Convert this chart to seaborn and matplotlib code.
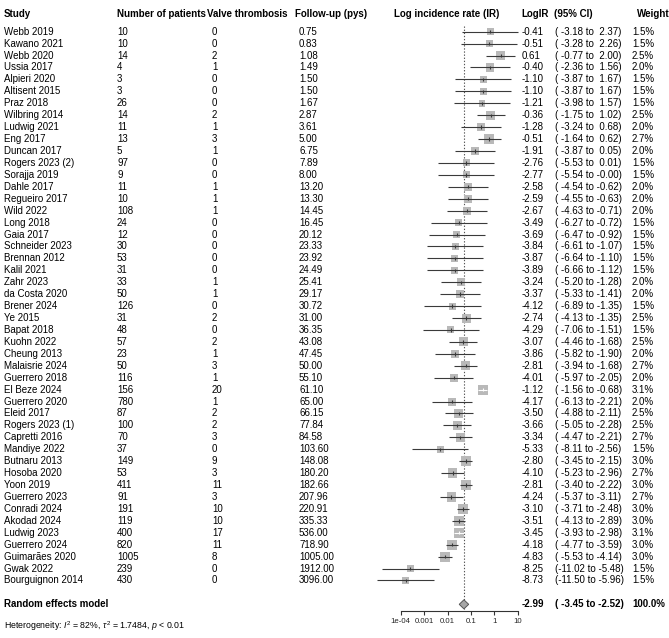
import numpy as np
import pandas as pd
import matplotlib
matplotlib.use("Agg")
import matplotlib.pyplot as plt
import matplotlib.transforms as mtrans
from matplotlib.ticker import FixedLocator, FixedFormatter, NullLocator
import seaborn as sns

studies = ["Webb 2019", "Kawano 2021", "Webb 2020", "Ussia 2017", "Alpieri 2020", "Altisent 2015",
           "Praz 2018", "Wilbring 2014", "Ludwig 2021", "Eng 2017", "Duncan 2017", "Rogers 2023 (2)",
           "Sorajja 2019", "Dahle 2017", "Regueiro 2017", "Wild 2022", "Long 2018", "Gaia 2017",
           "Schneider 2023", "Brennan 2012", "Kalil 2021", "Zahr 2023", "da Costa 2020", "Brener 2024",
           "Ye 2015", "Bapat 2018", "Kuohn 2022", "Cheung 2013", "Malaisrie 2024", "Guerrero 2018",
           "El Beze 2024", "Guerrero 2020", "Eleid 2017", "Rogers 2023 (1)", "Capretti 2016",
           "Mandiye 2022", "Butnaru 2013", "Hosoba 2020", "Yoon 2019", "Guerrero 2023", "Conradi 2024",
           "Akodad 2024", "Ludwig 2023", "Guerrero 2024", "Guimarães 2020", "Gwak 2022",
           "Bourguignon 2014"]
patients = [10, 10, 14, 4, 3, 3, 26, 14, 11, 13, 5, 97, 9, 11, 10, 108, 24, 12, 30, 53, 31, 33, 50,
            126, 31, 48, 57, 23, 50, 116, 156, 780, 87, 100, 70, 37, 149, 53, 411, 91, 191, 119, 400,
            820, 1005, 239, 430]
thrombosis = [0, 0, 2, 1, 0, 0, 0, 2, 1, 3, 1, 0, 0, 1, 1, 1, 0, 0, 0, 0, 0, 1, 1, 0, 2, 0, 2, 1, 3,
              1, 20, 1, 2, 2, 3, 0, 9, 3, 11, 3, 10, 10, 17, 11, 8, 0, 0]
followup = [0.75, 0.83, 1.08, 1.49, 1.50, 1.50, 1.67, 2.87, 3.61, 5.00, 6.75, 7.89, 8.00, 13.20,
            13.30, 14.45, 16.45, 20.12, 23.33, 23.92, 24.49, 25.41, 29.17, 30.72, 31.00, 36.35,
            43.08, 47.45, 50.00, 55.10, 61.10, 65.00, 66.15, 77.84, 84.58, 103.60, 148.08, 180.20,
            182.66, 207.96, 220.91, 335.33, 536.00, 718.90, 1005.00, 1912.00, 3096.00]
logir = [-0.41, -0.51, 0.61, -0.40, -1.10, -1.10, -1.21, -0.36, -1.28, -0.51, -1.91, -2.76, -2.77,
         -2.58, -2.59, -2.67, -3.49, -3.69, -3.84, -3.87, -3.89, -3.24, -3.37, -4.12, -2.74, -4.29,
         -3.07, -3.86, -2.81, -4.01, -1.12, -4.17, -3.50, -3.66, -3.34, -5.33, -2.80, -4.10, -2.81,
         -4.24, -3.10, -3.51, -3.45, -4.18, -4.83, -8.25, -8.73]
ci_lo = [-3.18, -3.28, -0.77, -2.36, -3.87, -3.87, -3.98, -1.75, -3.24, -1.64, -3.87, -5.53, -5.54,
         -4.54, -4.55, -4.63, -6.27, -6.47, -6.61, -6.64, -6.66, -5.20, -5.33, -6.89, -4.13, -7.06,
         -4.46, -5.82, -3.94, -5.97, -1.56, -6.13, -4.88, -5.05, -4.47, -8.11, -3.45, -5.23, -3.40,
         -5.37, -3.71, -4.13, -3.93, -4.77, -5.53, -11.02, -11.50]
ci_hi = [2.37, 2.26, 2.00, 1.56, 1.67, 1.67, 1.57, 1.02, 0.68, 0.62, 0.05, 0.01, -0.00, -0.62, -0.63,
         -0.71, -0.72, -0.92, -1.07, -1.10, -1.12, -1.28, -1.41, -1.35, -1.35, -1.51, -1.68, -1.90,
         -1.68, -2.05, -0.68, -2.21, -2.11, -2.28, -2.21, -2.56, -2.15, -2.96, -2.22, -3.11, -2.48,
         -2.89, -2.98, -3.59, -4.14, -5.48, -5.96]
weights = [1.5, 1.5, 2.5, 2.0, 1.5, 1.5, 1.5, 2.5, 2.0, 2.7, 2.0, 1.5, 1.5, 2.0, 2.0, 2.0, 1.5, 1.5,
           1.5, 1.5, 1.5, 2.0, 2.0, 1.5, 2.5, 1.5, 2.5, 2.0, 2.7, 2.0, 3.1, 2.0, 2.5, 2.5, 2.7, 1.5,
           3.0, 2.7, 3.0, 2.7, 3.0, 3.0, 3.1, 3.0, 3.0, 1.5, 1.5]

re_label = "Random effects model"
re_est, re_lo, re_hi, re_weight = -2.99, -3.45, -2.52, 100.0
heterogeneity = r"Heterogeneity: $I^2$ = 82%, $\tau^2$ = 1.7484, $p$ < 0.01"
tick_values = [1e-4, 1e-3, 1e-2, 1e-1, 1, 10]
tick_labels = ["1e-04", "0.001", "0.01", "0.1", "1", "10"]
headers = ["Study", "Number of patients", "Valve thrombosis", "Follow-up (pys)",
           "Log incidence rate (IR)", "LogIR", "(95% CI)", "Weight"]

df = pd.DataFrame({"study": studies, "n": patients, "events": thrombosis, "fu": followup,
                   "est": logir, "lo": ci_lo, "hi": ci_hi, "w": weights})
df["row"] = np.arange(len(df))
df["ir"] = np.exp(df["est"])

# ---------------- layout ----------------
W, H = 669, 638
sns.set_style("white")
plt.rcParams["font.family"] = ["Liberation Sans", "DejaVu Sans"]
plt.rcParams["mathtext.fontset"] = "custom"
plt.rcParams["mathtext.rm"] = "Liberation Sans"
plt.rcParams["mathtext.it"] = "Liberation Sans:italic"
plt.rcParams["mathtext.bf"] = "Liberation Sans:bold"

fig = plt.figure(figsize=(W / 100, H / 100), dpi=100)
row0_px, row_px = 31.7, 11.93
axis_px = 610.5
ln_lo, ln_hi = -12.0, 2.6
x_1e4_px, px_per_ln = 400.7, 10.163
left_px = x_1e4_px + (ln_lo - np.log(1e-4)) * px_per_ln
right_px = x_1e4_px + (ln_hi - np.log(1e-4)) * px_per_ln
ax = fig.add_axes([left_px / W, (H - axis_px) / H, (right_px - left_px) / W, axis_px / H])
ax.set_xscale("log")
ax.set_xlim(np.exp(ln_lo), np.exp(ln_hi))
ax.set_ylim((axis_px - row0_px) / row_px, -row0_px / row_px)
ax.patch.set_alpha(0)

# reference (summary) line
ax.vlines(np.exp(re_est), -0.45, ax.get_ylim()[0], colors="#555555", linestyles=(0, (1.2, 1.6)),
          linewidth=0.8, zorder=1)

# squares
s_min, s_max = 1.5 * 16.7, 3.1 * 16.7
sns.scatterplot(data=df, x="ir", y="row", size="w", sizes=(s_min, s_max), size_norm=(1.5, 3.1),
                marker="s", color="#b9b9b9", linewidth=0, legend=False, ax=ax, zorder=2)

# confidence intervals
box_px = np.sqrt(df["w"] * 16.7) * 100 / 72
ci_px = (df["hi"] - df["lo"]) * px_per_ln
line_cols = np.where(ci_px < box_px, "white", "#3a3a3a")
ax.hlines(df["row"], np.exp(df["lo"]), np.exp(df["hi"]), colors=line_cols, linewidth=0.8, zorder=3)
ax.scatter(df["ir"], df["row"], marker="|", s=6, c=line_cols, linewidths=0.8, zorder=4)

# diamond
re_row = len(df) + 1
dh = 0.38
ax.fill([np.exp(re_lo), np.exp(re_est), np.exp(re_hi), np.exp(re_est)],
        [re_row, re_row - dh, re_row, re_row + dh], facecolor="#a6a6a6", edgecolor="#555555",
        linewidth=0.7, zorder=3)

# axis styling
for sp in ["top", "left", "right"]:
    ax.spines[sp].set_visible(False)
ax.spines["bottom"].set_bounds(tick_values[0], tick_values[-1])
ax.spines["bottom"].set_linewidth(0.8)
ax.spines["bottom"].set_color("#333333")
ax.xaxis.set_major_locator(FixedLocator(tick_values))
ax.xaxis.set_major_formatter(FixedFormatter(tick_labels))
ax.xaxis.set_minor_locator(NullLocator())
ax.tick_params(axis="x", direction="out", length=3.2, width=0.8, color="#333333",
               labelsize=5.6, pad=2.2, bottom=True)
ax.set_yticks([])
ax.set_xlabel("")
ax.set_ylabel("")

# ---------------- table text ----------------
tr = mtrans.blended_transform_factory(fig.transFigure, ax.transData)
fs = 7.0


def put(xpx, row, txt, bold=False, size=fs, ha="left"):
    ax.text(xpx / W, row, txt, transform=tr, ha=ha, va="center", fontsize=size,
            fontweight="bold" if bold else "normal", clip_on=False, color="black")


hdr_row = -1.5
hdr_x = [4, 117, 207, 295, 394, 521, 554, 637]
for xh, h in zip(hdr_x, headers):
    put(xh, hdr_row, h, bold=True)

for r in df.itertuples():
    put(4, r.row, r.study)
    put(117, r.row, f"{r.n}")
    put(212, r.row, f"{r.events}")
    put(299, r.row, f"{r.fu:.2f}")
    put(522, r.row, f"{r.est:.2f}")
    put(555, r.row, f"({r.lo:6.2f} to {r.hi:5.2f})")
    put(632, r.row, f"{r.w:.1f}%")

put(4, re_row, re_label, bold=True)
put(522, re_row, f"{re_est:.2f}", bold=True)
put(555, re_row, f"({re_lo:6.2f} to {re_hi:5.2f})", bold=True)
put(632, re_row, f"{re_weight:.1f}%", bold=True)
put(4, re_row + 1.8, heterogeneity, size=6.3)

fig.savefig("out.png", dpi=100)
